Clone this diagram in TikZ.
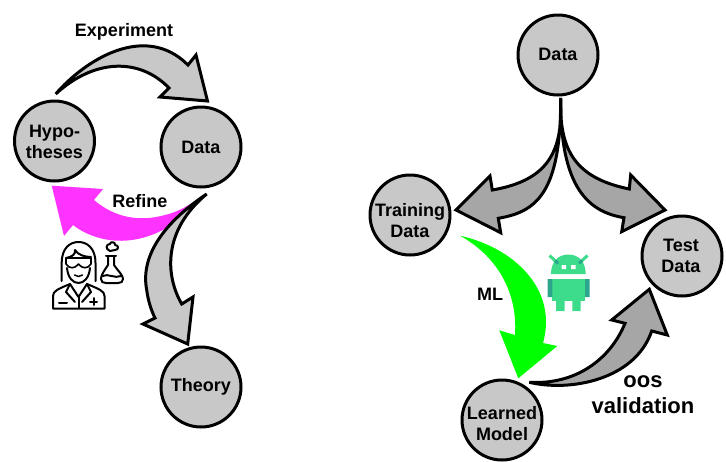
\documentclass[tikz,border=0pt]{standalone}
\usepackage{fontspec}
\setmainfont{Liberation Sans}
\definecolor{nodegrey}{HTML}{C8C8C8}
\definecolor{arrowdark}{HTML}{A6A6A6}
\definecolor{refinemag}{HTML}{FF33FF}
\definecolor{mlgreen}{HTML}{00FF00}
\definecolor{droid}{HTML}{3DDC8A}
\definecolor{droiddark}{HTML}{2CA58D}
\tikzset{
  circ/.style={circle,draw=black,line width=3pt,fill=nodegrey,minimum size=80pt,inner sep=0pt},
  lbl/.style={inner sep=0pt,align=center,font=\fontsize{18}{21}\selectfont\bfseries},
  lblbig/.style={inner sep=0pt,align=center,font=\fontsize{22}{26}\selectfont\bfseries},
  blockarrow/.style={draw=black,line width=3pt,miter limit=4,line join=miter},
  icon/.style={draw=black,line width=2pt,line cap=round,line join=round}
}
\begin{document}
\begin{tikzpicture}[x=1pt,y=-1pt]
\useasboundingbox (0,0) rectangle (726,461);
% nodes
\node[circ] (hyp) at (54.5,141) {};
\node[circ] (dataL) at (201,147) {};
\node[circ] (theory) at (201,387) {};
\node[circ] (dataR) at (558,55) {};
\node[circ] (train) at (410,215) {};
\node[circ] (test) at (682,256) {};
\node[circ] (model) at (502,420) {};
\node[lbl] (hyptext) at (54.5,141.5) {Hypo-\\theses};
\node[lbl] (dataLtext) at (201,147) {Data};
\node[lbl] (theorytext) at (201,387) {Theory};
\node[lbl] (dataRtext) at (558,54) {Data};
\node[lbl] (traintext) at (410,220.5) {Training\\Data};
\node[lbl] (testtext) at (681,255.5) {Test\\Data};
\node[lbl] (modeltext) at (502,423.5) {Learned\\Model};
% block arrows
\draw[blockarrow,fill=nodegrey] (55.7,94) .. controls (85,60) and (145,22) .. (188,65)
  -- (196,55) -- (207.5,101) -- (160,97) -- (169,88)
  .. controls (140,58) and (95,58) .. (55.7,94) -- cycle;
\fill[refinemag] (206.7,193.3) .. controls (190,205) and (178,212) .. (165,215)
  .. controls (140,222) and (115,218) .. (94,200) -- (103,189) -- (51.7,185.7) -- (64,236) -- (73,225)
  .. controls (100,246) and (155,255) .. (206.7,193.3) -- cycle;
\draw[blockarrow,fill=nodegrey] (206.7,194) .. controls (165,222) and (140,255) .. (146.7,290)
  .. controls (148,300) and (151,310) .. (155,318) -- (143,324) -- (187.7,344) -- (193,297) -- (181.7,304)
  .. controls (165,275) and (163,230) .. (206.7,194) -- cycle;
\draw[blockarrow,fill=arrowdark] (560.7,98) .. controls (563,150) and (550,180) .. (492.3,190)
  -- (490,176) -- (456,210) -- (500.7,232.7) -- (498.3,218.3)
  .. controls (535,212) and (561,195) .. (560.7,98) -- cycle;
\draw[blockarrow,fill=arrowdark] (560.7,98) .. controls (559,150) and (575,178) .. (629.3,189)
  -- (630.7,175) -- (665,210) -- (621.7,231.7) -- (624,217.7)
  .. controls (590,212) and (560,190) .. (560.7,98) -- cycle;
\fill[mlgreen] (460,235.7) .. controls (515,248) and (558,290) .. (543,343)
  -- (557.3,346) -- (518.3,378.3) -- (499.3,330.3) -- (515,335)
  .. controls (518,290) and (495,255) .. (460,235.7) -- cycle;
\draw[blockarrow,fill=arrowdark] (529.3,382.3) .. controls (570,392) and (635,380) .. (651.7,331)
  -- (667.3,335) -- (649.3,289.3) -- (611.7,320) -- (625,323.3)
  .. controls (610,360) and (575,385) .. (529.3,382.3) -- cycle;
% labels
\node[lbl] (exp) at (124,32) {Experiment};
\node[lbl] (ref) at (140,201) {Refine};
\node[lbl] (ml) at (490,294) {ML};
\node[lblbig] (oos) at (643,395) {oos\\validation};
% scientist icon
\begin{scope}[icon]
  \draw (61.7,281) -- (61.7,263) .. controls (61.7,248) and (70,242) .. (78.5,242) .. controls (87,242) and (95.5,248) .. (95.5,263) -- (95.5,281);
  \draw (66,258) .. controls (72,257) and (76,254) .. (75,250) .. controls (78,255) and (85,257) .. (91,257);
  \draw[line width=1.6pt] (66,258) -- (91,258) -- (91,264) .. controls (88,269) and (82,269) .. (78.5,264) .. controls (75,269) and (69,269) .. (66,264) -- cycle;
  \draw (67,268) .. controls (68,278) and (73,283) .. (78.5,283) .. controls (84,283) and (89,278) .. (90,268);
  \draw[line width=1.5pt] (74.5,275) .. controls (77,277) and (80,277) .. (82.5,275);
  \draw (53,308.5) -- (53,296) .. controls (53,291) and (58,289) .. (70,284) -- (78.5,297) -- (87,284) .. controls (99,289) and (104.5,291) .. (104.5,296) -- (104.5,308.5) -- cycle;
  \draw (70,284) -- (66,292) -- (75,302);
  \draw (87,284) -- (91,292) -- (82,302);
  \draw (78.5,297) -- (78.5,308);
  \draw (59,302.5) -- (67,302.5);
  \draw (90,301.5) -- (97,301.5) (93.5,298) -- (93.5,305);
  \draw (106,256) -- (116,256);
  \draw (108,257) -- (108,265) .. controls (104,271) and (101,275) .. (101,279) .. controls (101,282) and (103,283) .. (106,283) -- (118,283) .. controls (121,283) and (123,282) .. (123,279) .. controls (123,275) and (118,271) .. (114,265) -- (114,257);
  \draw (102.5,276) .. controls (108,273) and (115,279) .. (121,276);
  \draw (110,251) .. controls (105,249) and (106,244) .. (110,244) .. controls (110,241) and (116,242) .. (115,245) .. controls (119,245) and (119,250) .. (115,250) -- cycle;
\end{scope}
% android icon
\fill[droid] (551,274) .. controls (551,261) and (559,254.5) .. (568.3,254.5) .. controls (578,254.5) and (585.7,261) .. (585.7,274) -- cycle;
\draw[droid,line width=3pt] (549.5,255.5) -- (558,263.5) (587.5,255.5) -- (579,263.5);
\draw[droiddark,line width=3pt] (555,260.5) -- (558,263.5) (582,260.5) -- (579,263.5);
\fill[white] (561.5,265) rectangle (566,269) (571,265) rectangle (575.5,269);
\fill[droid] (552.3,279) rectangle (585,301);
\fill[droiddark] (547.5,279) rectangle (552.3,297) (585,279) rectangle (589.5,297);
\fill[droid] (556,301) rectangle (564.5,311) (572.3,301) rectangle (580.7,311);
\end{tikzpicture}
\end{document}
